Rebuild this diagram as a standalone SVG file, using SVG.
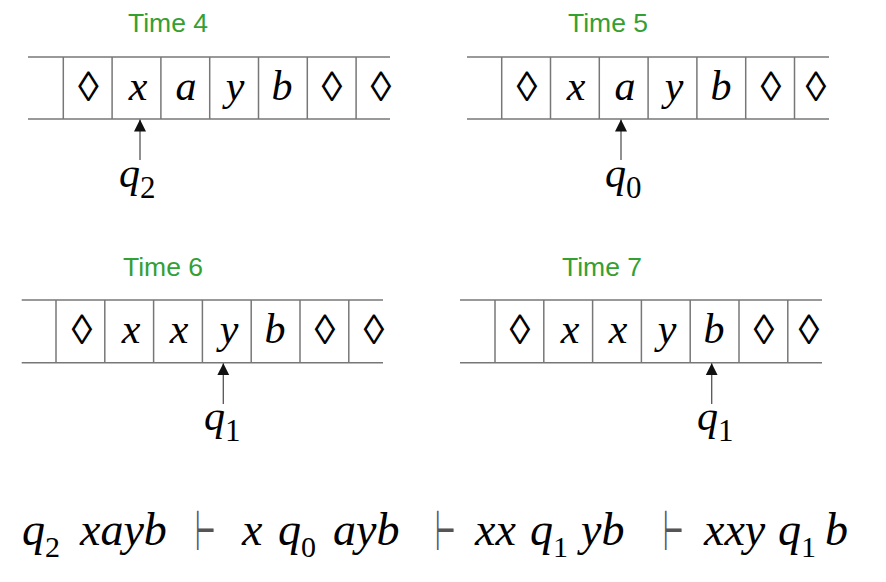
<svg xmlns="http://www.w3.org/2000/svg" width="886" height="582" viewBox="0 0 886 582">
<style>
.lbl{font-family:"Liberation Sans",Arial,sans-serif;font-size:26.5px;fill:#33a033;text-anchor:middle}
.tape line{stroke:#777;stroke-width:1.5}
.sym{font-family:"Liberation Serif","Times New Roman",serif;font-size:42px;font-style:italic;fill:#000;text-anchor:middle}
.dia{font-family:"Liberation Serif","Times New Roman","DejaVu Serif",serif;font-size:42px;fill:#000;text-anchor:middle}
.q{font-family:"Liberation Serif","Times New Roman",serif;font-size:42px;font-style:italic;fill:#000}
.sub{font-family:"Liberation Serif","Times New Roman",serif;font-size:31px;font-style:normal}
.eq{font-family:"Liberation Serif","Times New Roman",serif;font-size:46px;font-style:italic;fill:#000}
.esub{font-family:"Liberation Serif","Times New Roman",serif;font-size:30px;font-style:normal}
.ts{font-family:"DejaVu Sans",sans-serif;font-size:56px;fill:#555}
.conn line{stroke:#555;stroke-width:1.3}
</style>
<defs>
<marker id="ah" markerUnits="userSpaceOnUse" markerWidth="14" markerHeight="14" refX="12" refY="6.5" orient="auto">
<path d="M0,0.5 L12,6.5 L0,12.5 z" fill="#111"/>
</marker>
</defs>

<g id="tape4" class="tape">
<text class="lbl" x="168" y="32">Time 4</text>
<line x1="28" y1="57" x2="390" y2="57"/>
<line x1="28" y1="119" x2="390" y2="119"/>
<line x1="63.3" y1="57" x2="63.3" y2="119"/>
<line x1="112.1" y1="57" x2="112.1" y2="119"/>
<line x1="160.9" y1="57" x2="160.9" y2="119"/>
<line x1="209.7" y1="57" x2="209.7" y2="119"/>
<line x1="258.5" y1="57" x2="258.5" y2="119"/>
<line x1="307.3" y1="57" x2="307.3" y2="119"/>
<line x1="356.1" y1="57" x2="356.1" y2="119"/>
<text class="dia" x="88.3" y="101">◊</text>
<text class="sym" x="138" y="100">x</text>
<text class="sym" x="186" y="100">a</text>
<text class="sym" x="235" y="100">y</text>
<text class="sym" x="282" y="100">b</text>
<text class="dia" x="332" y="101">◊</text>
<text class="dia" x="381" y="101">◊</text>
<text class="q" x="119" y="187">q<tspan class="sub" dy="11">2</tspan></text>
</g>

<g id="tape5" class="tape">
<text class="lbl" x="608" y="32">Time 5</text>
<line x1="467" y1="57" x2="829" y2="57"/>
<line x1="467" y1="119" x2="829" y2="119"/>
<line x1="501.7" y1="57" x2="501.7" y2="119"/>
<line x1="550.5" y1="57" x2="550.5" y2="119"/>
<line x1="599.3" y1="57" x2="599.3" y2="119"/>
<line x1="648.1" y1="57" x2="648.1" y2="119"/>
<line x1="696.9" y1="57" x2="696.9" y2="119"/>
<line x1="745.7" y1="57" x2="745.7" y2="119"/>
<line x1="794.5" y1="57" x2="794.5" y2="119"/>
<text class="dia" x="527" y="101">◊</text>
<text class="sym" x="576" y="100">x</text>
<text class="sym" x="625" y="100">a</text>
<text class="sym" x="674" y="100">y</text>
<text class="sym" x="721" y="100">b</text>
<text class="dia" x="771" y="101">◊</text>
<text class="dia" x="816" y="101">◊</text>
<text class="q" x="605" y="187">q<tspan class="sub" dy="11">0</tspan></text>
</g>

<g id="tape6" class="tape">
<text class="lbl" x="163" y="276">Time 6</text>
<line x1="21.7" y1="300" x2="383" y2="300"/>
<line x1="21.7" y1="362.7" x2="383" y2="362.7"/>
<line x1="56" y1="300" x2="56" y2="362.7"/>
<line x1="104.8" y1="300" x2="104.8" y2="362.7"/>
<line x1="153.6" y1="300" x2="153.6" y2="362.7"/>
<line x1="202.4" y1="300" x2="202.4" y2="362.7"/>
<line x1="251.2" y1="300" x2="251.2" y2="362.7"/>
<line x1="300" y1="300" x2="300" y2="362.7"/>
<line x1="348.8" y1="300" x2="348.8" y2="362.7"/>
<text class="dia" x="82" y="344">◊</text>
<text class="sym" x="131" y="343">x</text>
<text class="sym" x="179" y="343">x</text>
<text class="sym" x="229" y="343">y</text>
<text class="sym" x="275" y="343">b</text>
<text class="dia" x="325" y="344">◊</text>
<text class="dia" x="374" y="344">◊</text>
<text class="q" x="204" y="430">q<tspan class="sub" dy="11">1</tspan></text>
</g>

<g id="tape7" class="tape">
<text class="lbl" x="602" y="276">Time 7</text>
<line x1="460" y1="300" x2="822" y2="300"/>
<line x1="460" y1="362.7" x2="822" y2="362.7"/>
<line x1="495" y1="300" x2="495" y2="362.7"/>
<line x1="543.8" y1="300" x2="543.8" y2="362.7"/>
<line x1="592.6" y1="300" x2="592.6" y2="362.7"/>
<line x1="641.4" y1="300" x2="641.4" y2="362.7"/>
<line x1="690.2" y1="300" x2="690.2" y2="362.7"/>
<line x1="739" y1="300" x2="739" y2="362.7"/>
<line x1="787.8" y1="300" x2="787.8" y2="362.7"/>
<text class="dia" x="520" y="344">◊</text>
<text class="sym" x="570" y="343">x</text>
<text class="sym" x="618" y="343">x</text>
<text class="sym" x="667" y="343">y</text>
<text class="sym" x="714" y="343">b</text>
<text class="dia" x="764" y="344">◊</text>
<text class="dia" x="809" y="344">◊</text>
<text class="q" x="697" y="430">q<tspan class="sub" dy="11">1</tspan></text>
</g>

<g id="connectors" class="conn">
<line x1="140" y1="160" x2="140" y2="119.5" marker-end="url(#ah)"/>
<line x1="621" y1="160" x2="621" y2="119.5" marker-end="url(#ah)"/>
<line x1="223.3" y1="404" x2="223.3" y2="363.2" marker-end="url(#ah)"/>
<line x1="711.7" y1="404" x2="711.7" y2="363.2" marker-end="url(#ah)"/>
</g>

<g id="equation">
<text class="eq" x="22" y="545">q<tspan class="esub" dy="12">2</tspan></text>
<text class="eq" x="80" y="545">xayb</text>
<text class="ts" transform="translate(195,550) scale(0.42,1)">⊢</text>
<text class="eq" x="242" y="545">x</text>
<text class="eq" x="278" y="545">q<tspan class="esub" dy="12">0</tspan></text>
<text class="eq" x="333" y="545">ayb</text>
<text class="ts" transform="translate(435,550) scale(0.42,1)">⊢</text>
<text class="eq" x="475" y="545">xx</text>
<text class="eq" x="530" y="545">q<tspan class="esub" dy="12">1</tspan></text>
<text class="eq" x="581" y="545">yb</text>
<text class="ts" transform="translate(663,550) scale(0.42,1)">⊢</text>
<text class="eq" x="704" y="545">xxy</text>
<text class="eq" x="778" y="545">q<tspan class="esub" dy="12">1</tspan></text>
<text class="eq" x="825" y="545">b</text>
</g>
</svg>
